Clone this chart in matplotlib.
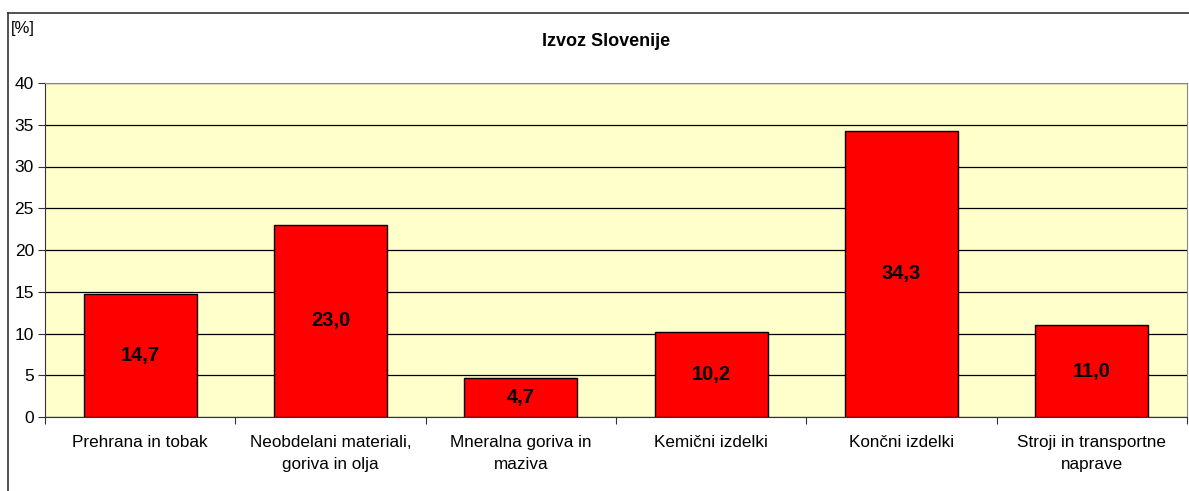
import matplotlib
matplotlib.use("Agg")
import matplotlib.pyplot as plt
from matplotlib.lines import Line2D

categories = ["Prehrana in tobak", "Neobdelani materiali,\ngoriva in olja",
              "Mneralna goriva in\nmaziva", "Kemični izdelki", "Končni izdelki",
              "Stroji in transportne\nnaprave"]
values = [14.7, 23.0, 4.7, 10.2, 34.3, 11.0]
value_labels = ["14,7", "23,0", "4,7", "10,2", "34,3", "11,0"]
yticks = [0, 5, 10, 15, 20, 25, 30, 35, 40]

plt.rcParams['font.family'] = ['Liberation Sans', 'DejaVu Sans']

fig = plt.figure(figsize=(11.89, 4.91), dpi=100)
ax = fig.add_axes([45/1189, 1-417/491, (1187-45)/1189, (417-83)/491])
ax.set_facecolor('#FFFFCC')

x = list(range(len(categories)))
ax.bar(x, values, width=0.594, color='#FF0000', edgecolor='black', linewidth=1, zorder=3)
for xi, v, lab in zip(x, values, value_labels):
    ax.text(xi, v/2, lab, ha='center', va='center', fontsize=14.5, fontweight='bold', zorder=4)

ax.set_xlim(-0.5, len(categories)-0.5)
ax.set_ylim(0, 40)
ax.set_yticks(yticks)
ax.set_yticklabels([str(t) for t in yticks], fontsize=12.5)
ax.yaxis.grid(True, color='black', linewidth=0.9, zorder=1)
ax.set_axisbelow(True)

ax.set_xticks([i + 0.5 for i in range(-1, len(categories))], minor=False)
ax.set_xticklabels([])
ax.set_xticks(x, minor=True)
ax.set_xticklabels(categories, minor=True, fontsize=12.3, linespacing=1.55)
ax.tick_params(axis='x', which='minor', length=0, pad=13)
ax.tick_params(axis='x', which='major', length=5, color='#333333', direction='out')
ax.tick_params(axis='y', length=5, color='#333333', direction='out', pad=3)

for s in ['top', 'right']:
    ax.spines[s].set_color('#888888')
for s in ['left', 'bottom']:
    ax.spines[s].set_color('#333333')

fig.text(606/1189, 1-42/491, "Izvoz Slovenije", ha='center', va='center', fontsize=13, fontweight='bold')
fig.text(11/1189, 1-28/491, "[%]", ha='left', va='center', fontsize=12)

fig.add_artist(Line2D([8/1189, 8/1189], [0, 1-13/491], transform=fig.transFigure, color='#333333', linewidth=1.2))
fig.add_artist(Line2D([8/1189, 1], [1-13/491, 1-13/491], transform=fig.transFigure, color='#333333', linewidth=1.2))

fig.savefig("out.png", dpi=100)
